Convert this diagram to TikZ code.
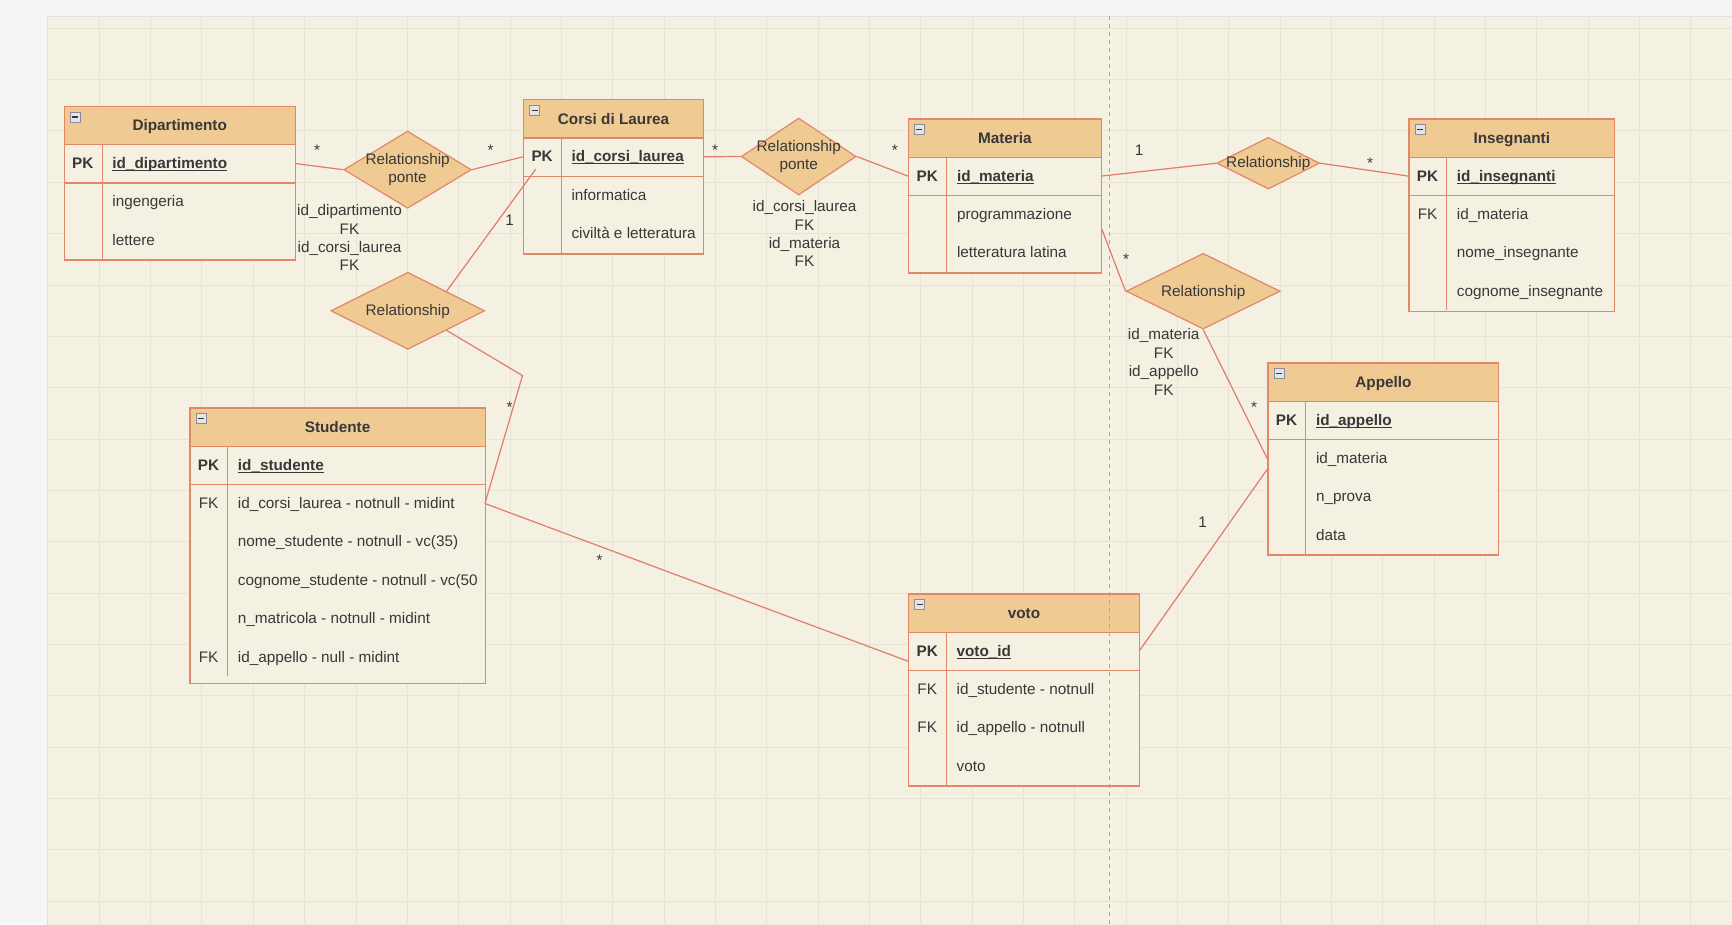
\documentclass[tikz,border=0pt]{standalone}
\usepackage{fontspec}
\setmainfont{Liberation Sans}
\usetikzlibrary{shapes.geometric,calc}

\definecolor{pagec}{HTML}{F5F5F5}
\definecolor{canvasc}{HTML}{F4F0E2}
\definecolor{gridc}{HTML}{E7E2D3}
\definecolor{headc}{HTML}{EFCA93}
\definecolor{edgec}{HTML}{E3876A}
\definecolor{linkc}{HTML}{E07D68}
\definecolor{inkc}{HTML}{383838}
\definecolor{breakc}{HTML}{A9A59B}
\definecolor{iconc}{HTML}{8C8CA0}

% bold key name with a line under it at underscore level
\newcommand\ulname[1]{\setbox0\hbox{#1}\rlap{\rule[-2.4pt]{\wd0}{0.9pt}}\box0}

\tikzset{
  every node/.style={font=\fontsize{15.3}{18.4}\selectfont, text=inkc},
  tbody/.style={rectangle, draw=edgec, fill=canvasc, line width=1.2pt, inner sep=0},
  thead/.style={rectangle, draw=edgec, fill=headc, line width=1.2pt, inner sep=0},
  trow/.style={rectangle, inner sep=0},
  tline/.style={draw=edgec, line width=1.2pt},
  txt/.style={inner sep=0, text height=13.6pt, text depth=3.2pt},
  boldtxt/.style={txt, font=\fontsize{15.3}{18.4}\selectfont\bfseries},
  rel/.style={diamond, draw=edgec, fill=headc, line width=1.2pt, inner sep=0},
  rtext/.style={align=center, inner sep=0},
  conn/.style={draw=linkc, line width=1.2pt},
  card/.style={inner sep=0, anchor=base},
  fklabel/.style={align=center, inner sep=0},
}

% collapse icon in the top left corner of a table header
\newcommand\minusicon[2]{%
  \draw[fill=black!10, draw=iconc, line width=0.6pt] (#1,#2) rectangle (#1+10,#2+10);
  \fill[inkc] (#1+2,#2+4.2) rectangle (#1+8,#2+5.8);
}

% #1 name, #2 left, #3 top, #4 right, #5 key column edge, #6 bottom,
% #7 title, #8 primary key, #9 remaining rows as key/text
\newcommand\ertable[9]{%
  \node[tbody, anchor=north west, minimum width={#4-#2}, minimum height={#6-#3}] (#1) at (#2,#3) {};
  \node[thead, anchor=north west, minimum width={#4-#2}, minimum height=38.4] (#1-h) at (#2,#3) {};
  \node[boldtxt] (#1-t) at (#1-h.center) {#7};
  \node[trow, anchor=north west, minimum width={#4-#2}, minimum height=38.4] (#1-pk) at (#2,#3+38.4) {};
  \draw[tline] (#1-pk.south west) -- (#1-pk.south east);
  \node[boldtxt] (#1-pkk) at ({(#2+#5)/2},#3+57.6) {PK};
  \node[boldtxt, anchor=west] (#1-pkn) at (#5+10,#3+57.6) {\ulname{#8}};
  \foreach \k/\t [count=\i] in {#9} {
    \node[trow, anchor=north west, minimum width={#4-#2}, minimum height=38.4] (#1-r\i) at (#2,{#3+38.4*(\i+1)}) {};
    \node[txt] (#1-k\i) at ({(#2+#5)/2},{#3+38.4*(\i+1)+19.2}) {\k};
    \node[txt, anchor=west] (#1-a\i) at (#5+10,{#3+38.4*(\i+1)+19.2}) {\t};
    \draw[tline] (#5,{#3+38.4*(\i+1)}) -- (#5,{min(#3+38.4*(\i+2),#6)});
  }
  \draw[tline] (#5,#3+38.4) -- (#5,#3+76.8);
  \minusicon{#2+6.5}{#3+6.3}
}

\begin{document}
\begin{tikzpicture}[x=1pt, y=-1pt]
\useasboundingbox (0,0) rectangle (1732,924);

% editor page and drawing canvas with its grid
\fill[pagec] (0,0) rectangle (1732,924);
\draw[fill=canvasc, draw=black!12, line width=0.8pt] (47.5,16) rectangle (1740,930);
\begin{scope}
  \clip (48,16.5) rectangle (1732,924);
  \foreach \i in {0,...,32} \draw[gridc, line width=1pt] (99.3+51.34*\i,16) -- (99.3+51.34*\i,924);
  \foreach \j in {0,...,17} \draw[gridc, line width=1pt] (48,28.3+51.34*\j) -- (1732,28.3+51.34*\j);
\end{scope}

% tables
\ertable{dip}{63.5}{105.7}{294.7}{102.2}{259.3}{Dipartimento}{id\_dipartimento}%
  {/ingengeria, /lettere}
\ertable{corsi}{523}{99}{702.9}{561.3}{253.3}{Corsi di Laurea}{id\_corsi\_laurea}%
  {/informatica, /civiltà e letteratura}
\ertable{mat}{907.8}{118.3}{1100.7}{946.8}{272.3}{Materia}{id\_materia}%
  {/programmazione, /letteratura latina}
\ertable{ins}{1408.4}{118.3}{1614}{1446.7}{310.7}{Insegnanti}{id\_insegnanti}%
  {FK/id\_materia, /nome\_insegnante, /cognome\_insegnante}
\ertable{app}{1267.4}{362.3}{1498.2}{1305.8}{554.3}{Appello}{id\_appello}%
  {/id\_materia, /n\_prova, /data}
\ertable{voto}{908}{593.3}{1138.8}{946.4}{785.3}{voto}{voto\_id}%
  {FK/id\_studente - notnull, FK/id\_appello - notnull, /voto}
\ertable{stu}{189.4}{407.3}{484.5}{227.7}{682.7}{Studente}{id\_studente}%
  {FK/id\_corsi\_laurea - notnull - midint, /nome\_studente - notnull  - vc(35),
   /cognome\_studente - notnull - vc(50, /n\_matricola - notnull - midint,
   FK/id\_appello - null - midint}

% page break marker
\draw[breakc, line width=0.8pt, dash pattern=on 4pt off 4pt] (1109.3,16) -- (1109.3,924);

% relationships
\node[rel, minimum width=127.5, minimum height=77.3] (d1) at (407.6,169.7) {};
\node[rtext] (d1-t) at (407.6,169.5) {Relationship\\ponte};
\node[rel, minimum width=153.8, minimum height=77] (d2) at (407.8,310.8) {};
\node[txt] (d2-t) at (407.8,310.4) {Relationship};
\node[rel, minimum width=114.8, minimum height=77] (d3) at (798.7,156.5) {};
\node[rtext] (d3-t) at (798.7,156.3) {Relationship\\ponte};
\node[rel, minimum width=102.8, minimum height=51.7] (d4) at (1268.3,163.2) {};
\node[txt] (d4-t) at (1268.3,162.6) {Relationship};
\node[rel, minimum width=154, minimum height=75.7] (d5) at (1203.2,291.2) {};
\node[txt] (d5-t) at (1203.2,290.8) {Relationship};

% free connector points
\coordinate (c1) at (535.6,169.3);
\coordinate (k1) at (522.5,375.6);

% connectors
\draw[conn] (dip-pk.east) -- (d1.west);
\draw[conn] (d1.east) -- (corsi-pk.west);
\draw[conn] (corsi-pk.east) -- (d3.west);
\draw[conn] (d3.east) -- (mat-pk.west);
\draw[conn] (mat-pk.east) -- (d4.west);
\draw[conn] (d4.east) -- (ins-pk.west);
\draw[conn] (mat.-19.4) -- (d5.west);
\draw[conn] (d5.south) -- (app.west);
\draw[conn] (app.185.8) -- (voto-pk.east);
\draw[conn] (stu-r1.east) -- (voto-pk.185);
\draw[conn] ($(d2.north)!0.5!(d2.east)$) -- (c1);
\draw[conn] ($(d2.south)!0.5!(d2.east)$) -- (k1) -- (stu-r1.east);

% cardinalities
\node[card] (m1) at (317,155.6) {*};
\node[card] (m2) at (490.5,155.6) {*};
\node[card] (m3) at (715,155.6) {*};
\node[card] (m4) at (894.8,155.6) {*};
\node[card] (m5) at (1139,155.5) {1};
\node[card] (m6) at (1370,168.2) {*};
\node[card] (m7) at (1126,264.6) {*};
\node[card] (m8) at (1254,412.2) {*};
\node[card] (m9) at (1202.7,527.2) {1};
\node[card] (m10) at (599.7,565.6) {*};
\node[card] (m11) at (509.7,412.2) {*};
\node[card] (m12) at (509.6,225.5) {1};

% foreign key notes
\node[fklabel] (f1) at (349.5,237.7) {id\_dipartimento\\FK\\id\_corsi\_laurea\\FK};
\node[fklabel] (f2) at (804.5,233.7) {id\_corsi\_laurea\\FK\\id\_materia\\FK};
\node[fklabel] (f3) at (1163.7,362) {id\_materia\\FK\\id\_appello\\FK};
\end{tikzpicture}
\end{document}
